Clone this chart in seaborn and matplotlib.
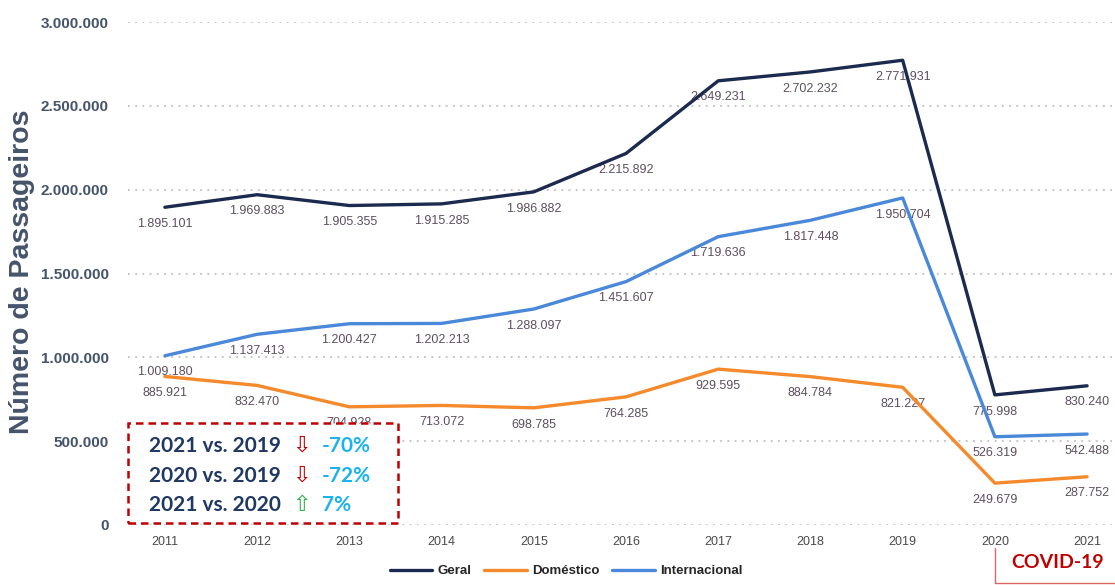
import seaborn as sns
import matplotlib.pyplot as plt
import matplotlib.patches as mpatches
from matplotlib.lines import Line2D
import pandas as pd

anos = [2011, 2012, 2013, 2014, 2015, 2016, 2017, 2018, 2019, 2020, 2021]
geral = [1895101, 1969883, 1905355, 1915285, 1986882, 2215892, 2649231, 2702232, 2771931, 775998, 830240]
domestico = [885921, 832470, 704928, 713072, 698785, 764285, 929595, 884784, 821227, 249679, 287752]
internacional = [1009180, 1137413, 1200427, 1202213, 1288097, 1451607, 1719636, 1817448, 1950704, 526319, 542488]
series = ['Geral', 'Doméstico', 'Internacional']
cores = {'Geral': '#1B2A4E', 'Doméstico': '#F58A2C', 'Internacional': '#4A88DA'}
yticks = [0, 500000, 1000000, 1500000, 2000000, 2500000, 3000000]
comparacoes = [('2021 vs. 2019', '⇩', '-70%'), ('2020 vs. 2019', '⇩', '-72%'), ('2021 vs. 2020', '⇧', '7%')]

df = pd.DataFrame({'Ano': anos * 3,
                   'Passageiros': geral + domestico + internacional,
                   'Serie': [s for s in series for _ in anos]})

sns.set_theme(style='white')
plt.rcParams['font.family'] = ['Liberation Sans', 'DejaVu Sans']

W, H = 1115, 585
fig = plt.figure(figsize=(W / 100, H / 100), dpi=100)
ax = fig.add_axes([128 / W, 1 - 525 / H, (1112 - 128) / W, (525 - 22) / H])

sns.lineplot(data=df, x='Ano', y='Passageiros', hue='Serie', palette=cores,
             linewidth=2.4, ax=ax, legend=False, zorder=3)

ax.set_xlim(2010.6, 2021.27)
ax.set_ylim(0, 3000000)
ax.set_xticks(anos)
ax.set_xticklabels([str(a) for a in anos], fontsize=9, color='#4a4a4a')
ax.set_yticks(yticks)
ax.set_yticklabels([f'{v:,}'.replace(',', '.') for v in yticks], fontsize=11,
                   fontweight='bold', color='#44546A')
ax.tick_params(axis='y', length=0, pad=14)
ax.tick_params(axis='x', length=0, pad=8)
ax.yaxis.grid(True, color='#BFBFBF', linestyle=(0, (1, 3)), linewidth=1.3)
ax.xaxis.grid(False)
for sp in ax.spines.values():
    sp.set_visible(False)
ax.set_xlabel('')
ax.set_ylabel('Número de Passageiros', fontsize=20.5, fontweight='bold', color='#44546A')
ax.yaxis.set_label_coords(-0.095, 0.503)

for vals in (geral, domestico, internacional):
    for a, v in zip(anos, vals):
        ax.annotate(f'{v:,}'.replace(',', '.'), (a, v), xytext=(0, -12), textcoords='offset points',
                    ha='center', va='center', fontsize=9, color='#5E4E60', zorder=2)

# caixa de comparacoes
caixa = mpatches.Rectangle((128 / W, 1 - 523 / H), (398 - 128) / W, (523 - 423) / H,
                           transform=fig.transFigure, facecolor='white', edgecolor='#C00000',
                           linestyle=(0, (3, 2)), linewidth=1.8, zorder=5)
fig.patches.append(caixa)
for i, (txt, seta, pct) in enumerate(comparacoes):
    yy = 1 - (446 + i * 29.5) / H
    fig.text(149 / W, yy, txt, fontsize=15, fontweight='bold', color='#1F3864',
             family=['Lato', 'DejaVu Sans'], va='center', zorder=6)
    fig.text(302 / W, yy, seta, fontsize=16, color='#C00000' if seta == '⇩' else '#2EB24A',
             family=['DejaVu Sans'], ha='center', va='center', zorder=6)
    fig.text(322 / W, yy, pct, fontsize=15, fontweight='bold', color='#1AB3F0',
             family=['Lato', 'DejaVu Sans'], va='center', zorder=6)

# marcador COVID-19
fig.add_artist(Line2D([995 / W, 995 / W, 1.0], [1 - 548 / H, 1 - 583 / H, 1 - 583 / H],
                      transform=fig.transFigure, color='#E06666', linewidth=1))
fig.text(1058 / W, 1 - 562 / H, 'COVID-19', fontsize=14, fontweight='bold', color='#C00000',
         family=['Lato', 'DejaVu Sans'], ha='center', va='center')

handles = [Line2D([0], [0], color=cores[s], linewidth=2.4) for s in series]
fig.legend(handles, series, loc='center', bbox_to_anchor=(566 / W, 1 - 571 / H), ncol=3,
           frameon=False, handlelength=3.2, handletextpad=0.4, columnspacing=1.0,
           prop={'weight': 'bold', 'size': 9.5})

fig.savefig('out.png', dpi=100)
